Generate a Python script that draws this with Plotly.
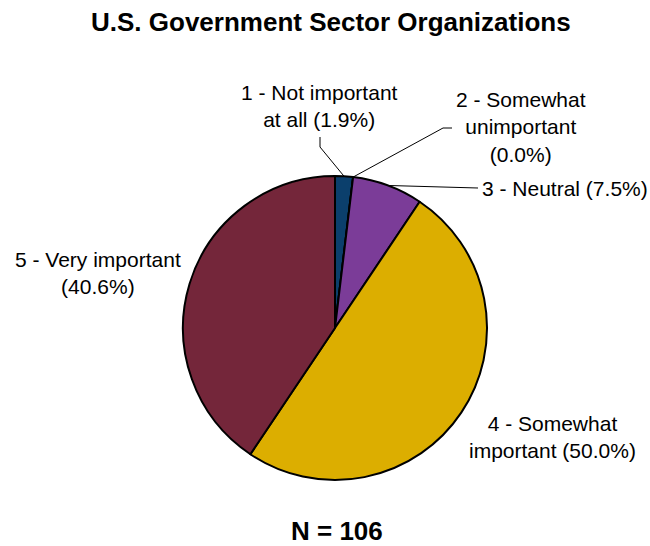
import math
import plotly.graph_objects as go

# Survey responses: importance rating, U.S. government sector organizations
categories = [
    "1 - Not important at all",
    "2 - Somewhat unimportant",
    "3 - Neutral",
    "4 - Somewhat important",
    "5 - Very important",
]
shares = [1.9, 0.0, 7.5, 50.0, 40.6]
slice_colors = ["#0b3f6c", "#7b3c98", "#7b3c98", "#dcae00", "#74263a"]
label_texts = [
    "1 - Not important<br>at all (1.9%)",
    "2 - Somewhat<br>unimportant<br>(0.0%)",
    "3 - Neutral (7.5%)",
    "4 - Somewhat<br>important (50.0%)",
    "5 - Very important<br>(40.6%)",
]
title_text = "U.S. Government Sector Organizations"
sample_note = "N = 106"

W, H = 650, 546
CX, CY, R = 335, 328, 152  # pie centre and radius in pixels


def paper(x, y):
    return x / W, 1 - y / H


def rim_point(k):
    """Point on the pie edge at the middle of slice k (clockwise from 12 o'clock)."""
    total = sum(shares)
    start = sum(shares[:k]) / total
    mid = start + shares[k] / total / 2
    ang = 2 * math.pi * mid
    return CX + R * math.sin(ang), CY - R * math.cos(ang)


fig = go.Figure()
x0, y1 = paper(CX - R, CY - R)
x1, y0 = paper(CX + R, CY + R)
fig.add_trace(go.Pie(
    labels=categories,
    values=shares,
    sort=False,
    direction="clockwise",
    rotation=0,
    marker=dict(colors=slice_colors, line=dict(color="black", width=2)),
    textinfo="none",
    hoverinfo="label+percent",
    showlegend=False,
    domain=dict(x=[x0, x1], y=[y0, y1]),
))

font = dict(family="Liberation Sans, Arial, sans-serif", size=21, color="black")
bold = dict(family="Liberation Sans, Arial, sans-serif", size=26, color="black")

annotations = []
# (label index, centre x, centre y, xanchor)
label_pos = [
    (0, 319, 106, "center"),
    (1, 521, 127, "center"),
    (2, 480, 188, "left"),
    (3, 552, 437, "center"),
    (4, 98, 273, "center"),
]
for k, lx, ly, xa in label_pos:
    px, py = paper(lx, ly)
    annotations.append(dict(
        x=px, y=py, xref="paper", yref="paper", text=label_texts[k],
        showarrow=False, xanchor=xa, yanchor="middle", align="center", font=font,
    ))

tx, ty = paper(331, 22)
annotations.append(dict(x=tx, y=ty, xref="paper", yref="paper",
                        text="<b>" + title_text + "</b>", showarrow=False,
                        xanchor="center", yanchor="middle", font=bold))
nx, ny = paper(337, 531)
annotations.append(dict(x=nx, y=ny, xref="paper", yref="paper",
                        text="<b>" + sample_note + "</b>", showarrow=False,
                        xanchor="center", yanchor="middle", font=bold))

# Leader lines from labels to the small slices
leaders = [
    (0, [(320, 137), (320, 147)]),
    (1, [(452, 128), (443, 128)]),
    (2, [(478, 188)]),
]
shapes = []
for k, pts in leaders:
    pts = pts + [rim_point(k)]
    path = ""
    for i, (x, y) in enumerate(pts):
        px, py = paper(x, y)
        path += ("M" if i == 0 else "L") + f"{px},{py} "
    shapes.append(dict(type="path", xref="paper", yref="paper", path=path.strip(),
                       line=dict(color="black", width=1)))

fig.update_layout(
    width=W, height=H,
    margin=dict(l=0, r=0, t=0, b=0),
    paper_bgcolor="white", plot_bgcolor="white",
    annotations=annotations,
    shapes=shapes,
)

fig.write_html("out.html")
